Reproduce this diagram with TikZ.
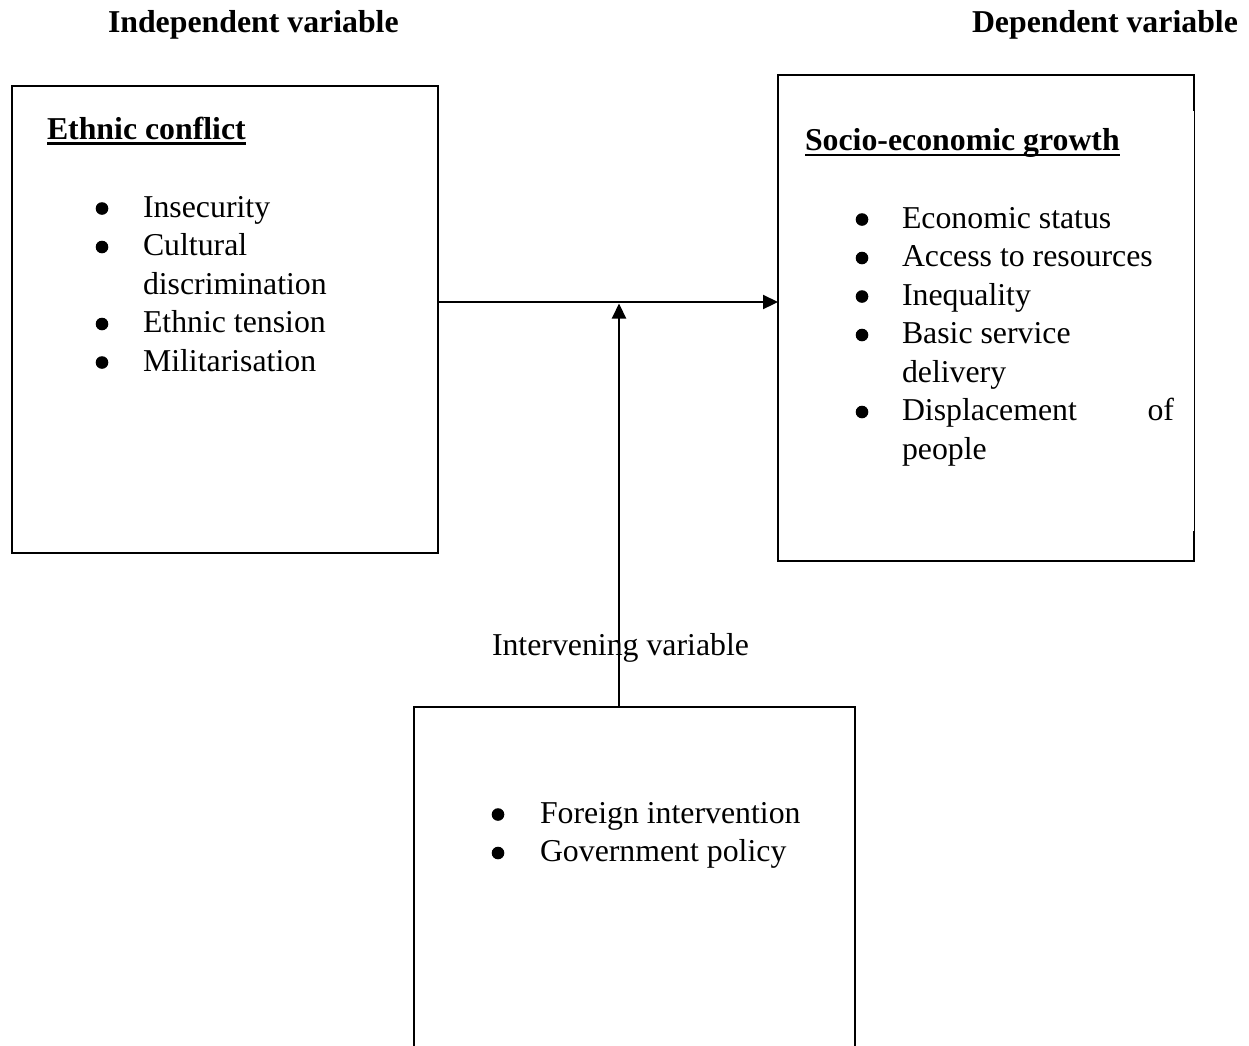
\documentclass[tikz,border=0pt]{standalone}
\usepackage{fontspec}
\setmainfont{Liberation Serif}
\usetikzlibrary{arrows.meta}
\tikzset{
  boxline/.style={line width=2.2pt, line cap=rect},
  boxnode/.style={rectangle, inner sep=0pt, outer sep=0pt},
  txt/.style={inner sep=0pt, outer sep=0pt, anchor=base west, font=\fontsize{31.8}{38.5}\selectfont},
  btxt/.style={txt, font=\fontsize{31.8}{38.5}\selectfont\bfseries},
  dot/.style={circle, fill=black, inner sep=0pt, minimum size=12.6pt},
  uline/.style={line width=2.7pt},
  arr/.style={line width=2.2pt, -{Triangle[length=15pt,width=14pt]}}
}
\begin{document}
\begin{tikzpicture}[x=1pt,y=-1pt]
\fill[white] (0,0) rectangle (1249,1045);
\useasboundingbox (0,0) rectangle (1249,1045);

% headers
\node[btxt] (indep) at (108,32) {Independent variable};
\node[btxt] (dep) at (972,32) {Dependent variable};

% boxes
\node[boxnode, draw, boxline, minimum width=426pt, minimum height=467pt] (lbox) at (225,319.5) {};
\node[boxnode, minimum width=416pt, minimum height=486pt] (rbox) at (986,318) {};
\draw[boxline] (rbox.north east |- 0,110) -- (rbox.north east) -- (rbox.north west)
  -- (rbox.south west) -- (rbox.south east) -- (rbox.south east |- 0,532);
\draw[line width=1pt] (rbox.east |- 0,110) -- (rbox.east |- 0,532);
\node[boxnode, draw, boxline, minimum width=441pt, minimum height=373pt] (bbox) at (634.5,893.5) {};

% left box content
\node[btxt] (lhead) at (47,139) {Ethnic conflict};
\draw[uline] ([yshift=-4.3pt]lhead.base west) -- ([yshift=-4.3pt]lhead.base east);
\node[dot] (ld1) at (102,208.5) {};
\node[txt] (l1) at (143,217) {Insecurity};
\node[dot] (ld2) at (102,247) {};
\node[txt] (l2) at (143,255.5) {Cultural};
\node[txt] (l2b) at (143,294) {discrimination};
\node[dot] (ld3) at (102,324) {};
\node[txt] (l3) at (143,332.5) {Ethnic tension};
\node[dot] (ld4) at (102,362.5) {};
\node[txt] (l4) at (143,371) {Militarisation};

% right box content
\node[btxt] (rhead) at (805,150) {Socio-economic growth};
\draw[uline] ([yshift=-5pt]rhead.base west) -- ([yshift=-5pt]rhead.base east);
\node[dot] (rd1) at (862,219.5) {};
\node[txt] (r1) at (902,228) {Economic status};
\node[dot] (rd2) at (862,258) {};
\node[txt] (r2) at (902,266.5) {Access to resources};
\node[dot] (rd3) at (862,296.5) {};
\node[txt] (r3) at (902,305) {Inequality};
\node[dot] (rd4) at (862,335) {};
\node[txt] (r4) at (902,343.5) {Basic service};
\node[txt] (r4b) at (902,382) {delivery};
\node[dot] (rd5) at (862,412) {};
\node[txt] (r5) at (902,420.5) {\hbox to 272pt{Displacement\hfill of}};
\node[txt] (r5b) at (902,459) {people};

% bottom box content
\node[txt] (ivlabel) at (492,655) {Intervening variable};
\node[dot] (bd1) at (498,814.5) {};
\node[txt] (b1) at (540,823) {Foreign intervention};
\node[dot] (bd2) at (498,853) {};
\node[txt] (b2) at (540,861.5) {Government policy};

% connectors
\coordinate (join) at (619,303.5);
\draw[arr] (lbox.east |- 0,302) -- (rbox.west |- 0,302);
\draw[arr] (bbox.north -| join) -- (join);
\end{tikzpicture}
\end{document}
